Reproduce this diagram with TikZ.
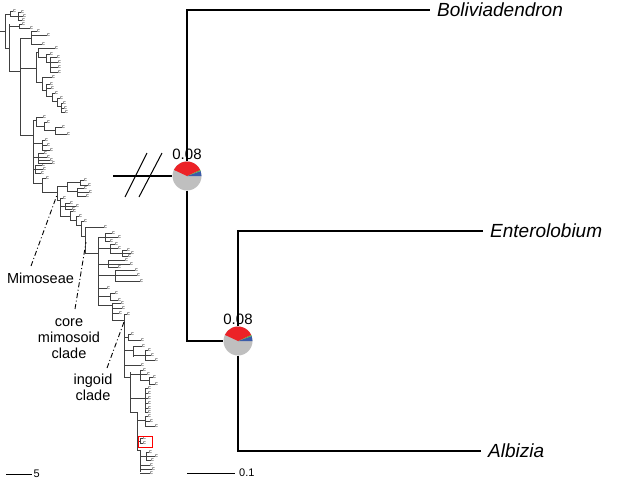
\documentclass[tikz,border=0pt]{standalone}
\usepackage{fontspec}
\setmainfont{Liberation Sans}
\definecolor{pred}{HTML}{EC2227}
\definecolor{pblue}{HTML}{3A5BA9}
\definecolor{pgreen}{HTML}{5DB349}
\definecolor{pgray}{HTML}{BFBFBF}
\newcommand\pieslices[1]{%
  \begin{scope}[shift={(#1.center)},x=1pt,y=1pt]
    \fill[pblue] (0,0) -- (0:14.5) arc[start angle=0,end angle=20,radius=14.5] -- cycle;
    \fill[pgreen] (0,0) -- (20:14.5) arc[start angle=20,end angle=25,radius=14.5] -- cycle;
    \fill[pred] (0,0) -- (25:14.5) arc[start angle=25,end angle=155,radius=14.5] -- cycle;
  \end{scope}}
\begin{document}
\begin{tikzpicture}[x=1pt,y=-1pt,
  tl/.style={line width=0.6pt, draw=black!75},
  tipc/.style={anchor=west, inner sep=0pt, outer sep=0pt, font=\fontsize{5.5}{5.5}\selectfont, text=black!85},
  br/.style={line width=1.1pt, draw=black},
  pie/.style={circle, minimum size=29pt, inner sep=0pt, fill=pgray},
  num/.style={inner sep=0pt, font=\fontsize{15}{15}\selectfont},
  sp/.style={anchor=west, inner sep=0pt, font=\fontsize{19}{19}\selectfont\itshape},
  lab/.style={inner sep=0pt, align=center, font=\fontsize{14.5}{16}\selectfont},
  ddash/.style={line width=0.9pt, dash pattern=on 5pt off 2.5pt on 1pt off 2.5pt},
  sbar/.style={line width=1pt, draw=black},
  sblab/.style={anchor=west, inner sep=0pt, font=\fontsize{11}{11}\selectfont}]
\path[use as bounding box] (0,0) rectangle (620,479);

% ---------------- small overview tree ----------------
\foreach \x/\a/\b in {5/14/48,10/11/16,18/12/20,9/24/71,19/24/28,20/38/135,31/31/44,
  36/52/82,38/48/57,46/54/62,50/57/72,42/77/90,46/84/96,52/93/101,57/98/106,61/103/112,
  33/120/183,36/117/126,44/122/130,55/127/134,42/140/150,38/153/163,35/165/173,42/178/192,
  57/186/200,67/182/191,80/180/185,77/188/196,60/198/216,65/203/209,70/211/220,76/216/225,
  81/221/236,85/227/253,98/237/305,105/233/241,110/244/253,122/250/256,108/260/267,
  115/270/281,110/293/300,112/303/320,124/314/377,128/334/340,133/346/357,145/350/360,
  130/372/412,140/370/380,149/377/384,145/388/412,137/412/450,145/416/426,140/438/443,
  140/450/472,146/452/460}
  {\draw[tl] (\x,\a) -- (\x,\b);}
\foreach \a/\b/\y in {0/5/31,5/10/14,10/18/16,5/9/48,9/19/26,9/20/71,20/31/38,20/36/68,
  36/38/52,38/46/57,46/50/62,36/42/82,42/46/90,46/52/96,52/57/101,57/61/106,20/33/135,
  33/36/120,36/44/126,44/55/130,33/42/143,33/38/157,33/35/169,33/42/183,42/57/192,
  57/67/186,67/80/182,67/77/191,57/60/200,60/65/206,60/70/216,70/76/220,76/81/225,
  81/85/236,85/98/253,98/105/237,98/110/248,110/122/253,98/108/264,98/115/275,98/110/296,
  98/112/305,112/124/320,124/128/337,124/133/350,133/145/355,124/130/377,130/140/374,
  140/149/380,130/145/398,130/137/412,137/145/420,137/140/441,137/140/450,140/146/456}
  {\draw[tl] (\a,\y) -- (\b,\y);}
\foreach \a/\b/\y in {10/13/11,18/21/12,18/23/16,18/22/20,19/22/24,19/30/28,
  31/37/31,31/47/35,31/42/44,38/55/48,46/50/54,50/57/57,50/58/62,50/58/67,50/58/72,
  42/52/77,46/50/84,46/51/88,52/55/93,57/60/98,61/63/103,61/64/108,61/65/112,
  36/43/117,44/47/122,55/62/127,55/67/134,42/45/140,42/47/145,42/50/150,
  38/44/153,38/47/157,38/50/160,38/52/163,35/42/165,35/43/169,35/41/173,42/46/178,
  80/84/180,80/88/185,77/84/188,77/89/192,77/86/196,60/63/198,65/70/203,65/76/206,
  65/72/209,70/73/211,76/79/216,81/84/221,85/104/227,105/112/233,105/118/237,105/110/241,
  110/115/244,110/118/248,122/127/250,122/131/253,122/128/256,108/125/260,108/130/264,
  108/118/267,115/135/270,115/137/275,115/140/281,98/107/288,110/115/293,110/118/300,
  112/121/303,112/122/308,112/119/313,124/127/314,128/131/334,128/141/340,133/142/346,
  145/148/350,145/151/355,145/155/360,124/141/365,140/143/370,140/147/374,149/153/377,
  149/155/384,145/148/388,145/148/393,145/148/398,145/148/403,145/148/408,145/148/412,
  145/148/416,145/150/421,145/155/426,140/143/438,140/143/443,
  146/149/452,146/155/456,146/151/460,140/150/465,140/152/469,140/150/473}
  {\draw[tl] (\a,\y) -- (\b,\y) node[tipc] {c};}
\draw[red, line width=0.8pt] (138,436) rectangle (152,447);

% clade labels and dash-dot pointers
\node[lab] (mim) at (40.5,278) {Mimoseae};
\node[lab] (core) at (69,339) {core\\mimosoid\\clade};
\node[lab] (ing) at (93,387) {ingoid\\clade};
\coordinate (mimA) at (31,266);  \coordinate (mimB) at (57,195);
\coordinate (coreA) at (75,309); \coordinate (coreB) at (86,242);
\coordinate (ingA) at (107,368); \coordinate (ingB) at (124,322);
\draw[ddash] (mimA) -- (mimB);
\draw[ddash] (coreA) -- (coreB);
\draw[ddash] (ingA) -- (ingB);

% scale bars
\coordinate (sbA1) at (6,474); \coordinate (sbA2) at (32,474);
\draw[sbar] (sbA1) -- (sbA2);
\node[sblab] (sbAl) at (33.5,474) {5};
\coordinate (sbB1) at (187,473); \coordinate (sbB2) at (235,473);
\draw[sbar] (sbB1) -- (sbB2);
\node[sblab] (sbBl) at (239,473) {0.1};

% ---------------- main tree ----------------
\node[sp] (bol) at (437,10) {Boliviadendron};
\node[sp] (ent) at (490,231) {Enterolobium};
\node[sp] (alb) at (488,451) {Albizia};
\node[pie] (p1) at (187,176) {};
\node[pie] (p2) at (238,341) {};
\coordinate (stub) at (113,176);
\draw[br] (stub) -- (p1);
\draw[br] (p1) |- ([xshift=-7pt]bol.west);
\draw[br] (p1) |- (p2);
\draw[br] (p2) |- ([xshift=-7pt]ent.west);
\draw[br] (p2) |- ([xshift=-7pt]alb.west);
\coordinate (s1a) at (125,197); \coordinate (s1b) at (147,153);
\coordinate (s2a) at (139,197); \coordinate (s2b) at (162,153);
\draw[br, line width=1pt] (s1a) -- (s1b);
\draw[br, line width=1pt] (s2a) -- (s2b);
\pieslices{p1}
\pieslices{p2}
\node[num, anchor=south] (n1) at ([yshift=1.8pt]p1.north) {0.08};
\node[num, anchor=south] (n2) at ([yshift=1.8pt]p2.north) {0.08};
\end{tikzpicture}
\end{document}
